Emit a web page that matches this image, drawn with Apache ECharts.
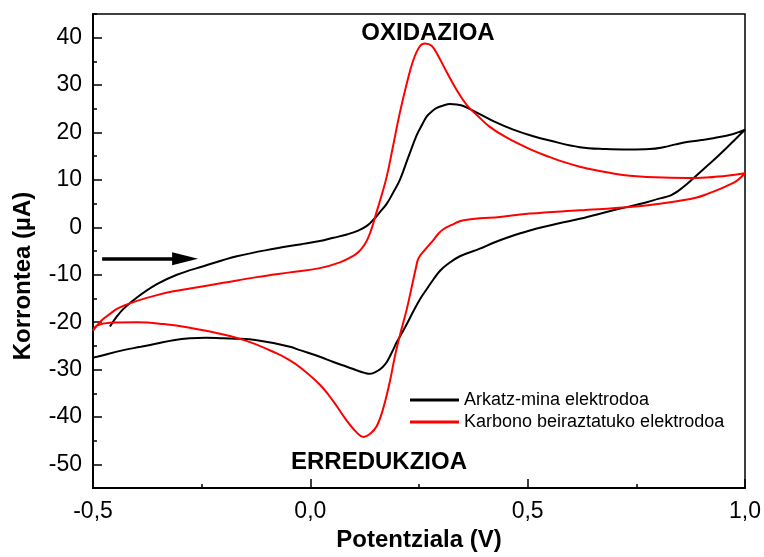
<!DOCTYPE html>
<html>
<head>
<meta charset="utf-8">
<script src="https://cdn.jsdelivr.net/npm/echarts@6/dist/echarts.min.js"></script>
<style>
html, body { margin: 0; padding: 0; background: #fff; }
#chart { width: 764px; height: 557px; }
</style>
</head>
<body>
<div id="chart"></div>
<script>
// Arkatz-mina elektrodoa: [potentziala V, korrontea uA], scan order
var arkatzMina = [
  [-0.461,-20.9],[-0.445,-18.8],[-0.430,-17.2],[-0.399,-14.8],[-0.353,-12.0],[-0.307,-10.0],
  [-0.246,-8.2],[-0.169,-6.1],[-0.077,-4.4],[-0.024,-3.6],[0.022,-2.9],[0.053,-2.2],[0.084,-1.5],
  [0.110,-0.7],[0.130,0.3],[0.145,1.6],[0.160,3.2],[0.176,5.0],[0.191,7.4],[0.206,10.0],
  [0.225,14.7],[0.245,19.5],[0.258,21.8],[0.268,23.4],[0.280,24.5],[0.291,25.2],[0.306,25.7],
  [0.321,26.0],[0.337,25.9],[0.352,25.6],[0.383,24.2],[0.421,22.4],[0.467,20.6],[0.513,19.2],
  [0.551,18.3],[0.620,16.9],[0.680,16.5],[0.735,16.4],[0.780,16.5],[0.812,16.9],[0.840,17.5],
  [0.866,18.0],[0.900,18.4],[0.927,18.8],[0.973,19.7],[1.0,20.6],
  [0.979,18.7],[0.958,16.8],[0.935,14.8],[0.912,12.9],[0.889,11.0],[0.866,9.1],[0.845,7.6],
  [0.828,6.7],[0.800,6.0],[0.774,5.3],[0.697,3.6],[0.620,1.8],[0.570,0.8],[0.521,-0.25],
  [0.485,-1.2],[0.452,-2.2],[0.420,-3.3],[0.390,-4.5],[0.344,-6.1],[0.314,-7.9],[0.298,-9.2],
  [0.283,-11.0],[0.268,-13.0],[0.252,-15.2],[0.237,-17.7],[0.222,-20.4],[0.210,-22.4],[0.199,-24.2],
  [0.188,-26.3],[0.176,-28.4],[0.166,-29.5],[0.156,-30.2],[0.146,-30.7],[0.137,-30.9],[0.125,-30.7],
  [0.114,-30.4],[0.084,-29.4],[0.053,-28.4],[0.022,-27.3],[-0.024,-25.9],[-0.047,-25.2],
  [-0.085,-24.4],[-0.123,-23.8],[-0.160,-23.5],[-0.200,-23.4],[-0.240,-23.3],[-0.277,-23.4],
  [-0.315,-23.8],[-0.353,-24.5],[-0.390,-25.2],[-0.430,-25.9],[-0.491,-27.3],[-0.5,-27.5]
];
// Karbono beiraztatuko elektrodoa
var karbonoBeiraztatu = [
  [-0.5,-21.8],[-0.488,-20.4],[-0.476,-19.3],[-0.460,-18.2],[-0.445,-17.2],[-0.420,-16.2],
  [-0.399,-15.5],[-0.353,-14.3],[-0.315,-13.5],[-0.277,-12.9],[-0.200,-11.7],[-0.123,-10.5],
  [-0.047,-9.5],[0.022,-8.6],[0.068,-7.4],[0.099,-6.0],[0.112,-5.1],[0.122,-4.0],[0.130,-2.8],
  [0.137,-1.3],[0.143,0.3],[0.149,2.2],[0.160,5.5],[0.176,10.8],[0.190,17.0],[0.206,24.2],
  [0.222,30.4],[0.237,35.3],[0.252,38.2],[0.264,38.8],[0.279,38.3],[0.294,36.2],[0.314,32.7],
  [0.337,28.9],[0.360,25.8],[0.383,23.7],[0.413,21.2],[0.452,18.9],[0.505,16.5],[0.551,14.8],
  [0.582,13.8],[0.620,12.8],[0.659,12.0],[0.700,11.3],[0.735,10.9],[0.812,10.5],[0.889,10.4],
  [0.958,10.9],[1.0,11.4],
  [0.981,9.8],[0.962,8.9],[0.943,8.1],[0.915,7.1],[0.889,6.3],[0.850,5.6],[0.812,5.1],[0.735,4.3],
  [0.620,3.6],[0.505,2.9],[0.436,2.2],[0.390,1.9],[0.360,1.6],[0.344,1.3],[0.325,0.5],[0.306,-0.4],
  [0.294,-1.4],[0.283,-2.7],[0.264,-4.7],[0.249,-6.5],[0.243,-8.5],[0.237,-11.0],[0.222,-17.2],
  [0.206,-22.8],[0.195,-27.0],[0.183,-32.5],[0.168,-38.1],[0.153,-41.9],[0.137,-43.6],[0.122,-44.2],
  [0.107,-43.3],[0.084,-40.8],[0.053,-36.7],[0.022,-33.2],[-0.024,-29.5],[-0.050,-27.9],
  [-0.077,-26.6],[-0.139,-24.2],[-0.200,-22.6],[-0.277,-21.2],[-0.338,-20.4],[-0.399,-20.0],
  [-0.461,-20.1],[-0.491,-20.7],[-0.5,-21.8]
];
var xMajor = [-0.5, 0, 0.5, 1.0];
var xMinor = [-0.25, 0.25, 0.75];
var yMajor = [-50, -40, -30, -20, -10, 0, 10, 20, 30, 40];
var yMinor = [-55, -45, -35, -25, -15, -5, 5, 15, 25, 35, 45];
var scanArrow = [[-0.479, -6.6], [-0.288, -6.6]];

var FONT = '"Liberation Sans", Arial, sans-serif';
var chart = echarts.init(document.getElementById('chart'));

function comma(v) { return v.toFixed(1).replace('.', ','); }

chart.setOption({
  animation: false,
  backgroundColor: '#fff',
  grid: { left: 93, right: 19, top: 14, bottom: 63, show: true, borderColor: '#000', borderWidth: 1.5 },
  legend: {
    left: 405, top: 386, orient: 'vertical', itemGap: 4,
    itemWidth: 49, itemHeight: 3, icon: 'rect',
    textStyle: { fontFamily: FONT, fontSize: 18, color: '#000' },
    data: ['Arkatz-mina elektrodoa', 'Karbono beiraztatuko elektrodoa']
  },
  xAxis: [{
    type: 'value', min: -0.5, max: 1.0,
    name: 'Potentziala (V)', nameLocation: 'middle', nameGap: 29,
    nameTextStyle: { fontFamily: FONT, fontSize: 24, fontWeight: 'bold', color: '#000' },
    axisLine: { onZero: false, lineStyle: { color: '#000', width: 2 } },
    axisTick: { inside: true, length: 9, customValues: xMajor, lineStyle: { color: '#000', width: 1.5 } },
    axisLabel: { customValues: xMajor, formatter: comma, margin: 12, fontFamily: FONT, fontSize: 23, color: '#000' },
    splitLine: { show: false }
  }, {
    type: 'value', min: -0.5, max: 1.0, position: 'bottom',
    axisLine: { show: false, onZero: false },
    axisTick: { inside: true, length: 4, customValues: xMinor, lineStyle: { color: '#000', width: 1.5 } },
    axisLabel: { show: false }, splitLine: { show: false }
  }],
  yAxis: [{
    type: 'value', min: -55, max: 45,
    axisLine: { onZero: false, lineStyle: { color: '#000', width: 2 } },
    axisTick: { inside: true, length: 9, customValues: yMajor, lineStyle: { color: '#000', width: 1.5 } },
    axisLabel: { customValues: yMajor, margin: 11, fontFamily: FONT, fontSize: 23, color: '#000' },
    splitLine: { show: false }
  }, {
    type: 'value', min: -55, max: 45, position: 'left',
    axisLine: { show: false, onZero: false },
    axisTick: { inside: true, length: 4, customValues: yMinor, lineStyle: { color: '#000', width: 1.5 } },
    axisLabel: { show: false }, splitLine: { show: false }
  }],
  graphic: [
    { type: 'text', x: 23, y: 276, rotation: Math.PI / 2,
      style: { text: 'Korrontea (µA)', font: 'bold 24px ' + FONT, fill: '#000', align: 'center', verticalAlign: 'middle' } },
    { type: 'text', x: 428, y: 33,
      style: { text: 'OXIDAZIOA', font: 'bold 24px ' + FONT, fill: '#000', align: 'center', verticalAlign: 'middle' } },
    { type: 'text', x: 379, y: 462,
      style: { text: 'ERREDUKZIOA', font: 'bold 24px ' + FONT, fill: '#000', align: 'center', verticalAlign: 'middle' } }
  ],
  series: [{
    name: 'Arkatz-mina elektrodoa', type: 'line', data: arkatzMina,
    symbol: 'none', smooth: 0.4, color: '#000',
    lineStyle: { color: '#000', width: 2 },
    markLine: {
      silent: true, animation: false,
      symbol: ['none', 'triangle'], symbolSize: [13, 26],
      label: { show: false },
      lineStyle: { color: '#000', width: 3.5, type: 'solid' },
      data: [[{ coord: scanArrow[0] }, { coord: scanArrow[1] }]]
    }
  }, {
    name: 'Karbono beiraztatuko elektrodoa', type: 'line', data: karbonoBeiraztatu,
    symbol: 'none', smooth: 0.4, color: '#ff0000',
    lineStyle: { color: '#ff0000', width: 2 }
  }]
});
</script>
</body>
</html>
